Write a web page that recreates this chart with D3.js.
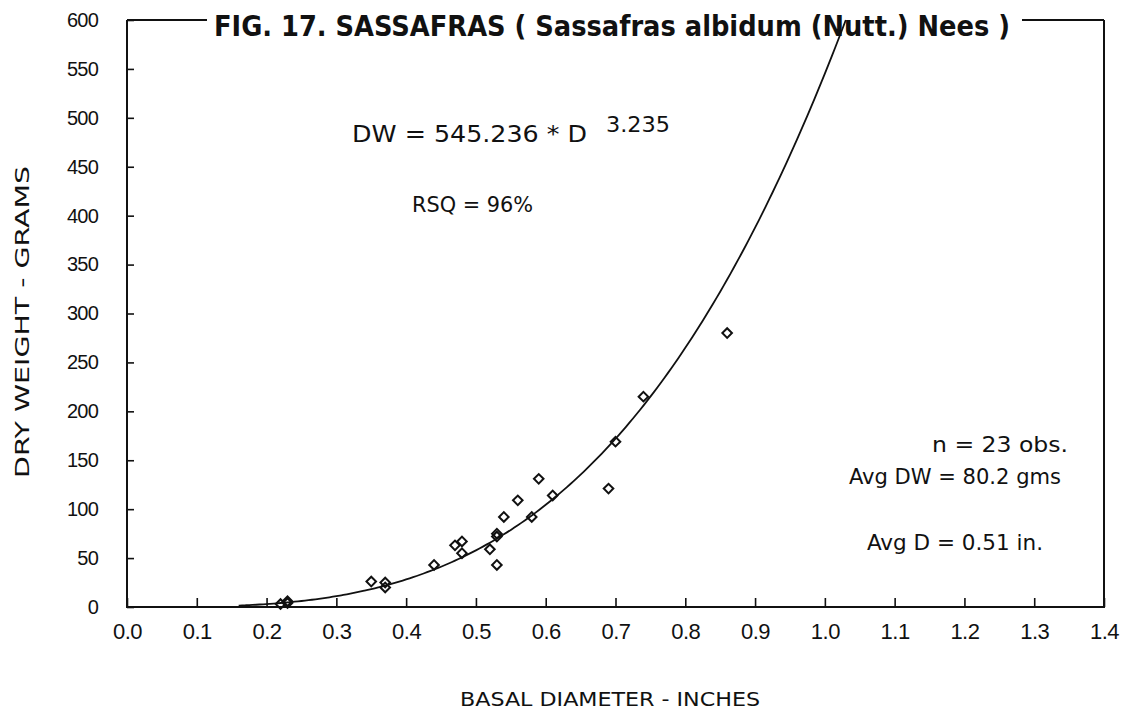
<!DOCTYPE html>
<html><head><meta charset="utf-8">
<script src="https://cdn.jsdelivr.net/npm/d3@7"></script>
<style>
body{margin:0;background:#fff;}
svg{display:block;}
text{fill:#111;}
</style></head>
<body>
<svg id="chart" width="1130" height="714"></svg>
<script>
// ---- data ----
const diameterIn = [0.22,0.23,0.23,0.35,0.37,0.37,0.44,0.47,0.48,0.48,0.52,0.53,0.53,0.53,0.54,0.56,0.58,0.59,0.61,0.69,0.70,0.74,0.86];
const dryWeightG = [3,6,4,26,25,20,43,63,67,55,59,75,72,43,92,109,92,131,114,121,169,215,280];
const xTickValues = [0,0.1,0.2,0.3,0.4,0.5,0.6,0.7,0.8,0.9,1.0,1.1,1.2,1.3,1.4];
const xTickLabels = ["0.0","0.1","0.2","0.3","0.4","0.5","0.6","0.7","0.8","0.9","1.0","1.1","1.2","1.3","1.4"];
const yTickValues = [0,50,100,150,200,250,300,350,400,450,500,550,600];
// fitted model printed on the chart: DW = a * D^b
const fitA = 545.236;
const fitB = 3.235;
const fitRange = [0.16, 1.03];
const titleText = "FIG. 17. SASSAFRAS  ( Sassafras albidum (Nutt.) Nees )";
const notes = ["n = 23 obs.", "Avg DW = 80.2 gms", "Avg D = 0.51 in."];

const svg = d3.select("#chart");
const L = 127, R = 1104, T = 20, B = 607;
const x = d3.scaleLinear().domain([0, 1.4]).range([L, R]);
const y = d3.scaleLinear().domain([0, 600]).range([B, T]);
const font = "'DejaVu Sans Condensed','Liberation Sans Narrow',Arial,sans-serif";
const tickFont = "'Liberation Sans',Arial,sans-serif";

// axes (inward ticks)
const xAxis = d3.axisBottom(x).tickValues(xTickValues).tickSizeInner(-9).tickSizeOuter(0)
  .tickFormat((d,i)=>xTickLabels[i]).tickPadding(17);
const gx = svg.append("g").attr("transform",`translate(0,${B})`).call(xAxis);
gx.select(".domain").remove();
gx.selectAll(".tick line").attr("stroke","#111").attr("stroke-width",1.6);
gx.selectAll(".tick text").attr("font-family",tickFont).attr("font-size",22)
  .attr("letter-spacing","-0.5").attr("fill","#111").attr("dy","0.68em");

const yAxis = d3.axisLeft(y).tickValues(yTickValues).tickSizeInner(-7).tickSizeOuter(0).tickPadding(29);
const gy = svg.append("g").attr("transform",`translate(${L},0)`).call(yAxis);
gy.select(".domain").remove();
gy.selectAll(".tick line").attr("stroke","#111").attr("stroke-width",1.6);
gy.selectAll(".tick text").attr("font-family",tickFont).attr("font-size",20)
  .attr("letter-spacing","-0.8").attr("fill","#111");

// frame
const frame = svg.append("g").attr("stroke","#111").attr("stroke-width",2).attr("fill","none");
frame.append("path").attr("d",`M${L},${T}V${B}H${R}V${T}`);
frame.append("line").attr("x1",L).attr("x2",207).attr("y1",T).attr("y2",T);
frame.append("line").attr("x1",1022).attr("x2",R).attr("y1",T).attr("y2",T);

// title
svg.append("text").attr("x",612).attr("y",36).attr("text-anchor","middle")
  .attr("font-family",font).attr("font-weight","bold").attr("font-size",28)
  .attr("textLength",796).attr("lengthAdjust","spacingAndGlyphs").text(titleText);

// fitted curve
const curvePts = d3.range(fitRange[0], fitRange[1] + 0.0001, 0.005).map(d => [d, fitA*Math.pow(d, fitB)]);
svg.append("path").datum(curvePts)
  .attr("fill","none").attr("stroke","#111").attr("stroke-width",1.8)
  .attr("d", d3.line().x(d=>x(d[0])).y(d=>y(Math.min(d[1],600))).curve(d3.curveMonotoneX));

// points (open diamonds = rotated squares)
const sym = d3.symbol().type(d3.symbolSquare).size(46);
svg.append("g").selectAll("path").data(diameterIn).join("path")
  .attr("transform",(d,i)=>`translate(${x(d)},${y(dryWeightG[i])}) rotate(45)`)
  .attr("d",sym).attr("fill","none").attr("stroke","#111").attr("stroke-width",2);

// equation
svg.append("text").attr("x",352).attr("y",142).attr("font-family",font).attr("font-size",23)
  .attr("textLength",235).attr("lengthAdjust","spacingAndGlyphs").text("DW = 545.236 * D");
svg.append("text").attr("x",606).attr("y",132).attr("font-family",font).attr("font-size",22)
  .attr("textLength",64).attr("lengthAdjust","spacingAndGlyphs").text("3.235");
svg.append("text").attr("x",412).attr("y",212).attr("font-family",font).attr("font-size",21)
  .attr("textLength",121).attr("lengthAdjust","spacingAndGlyphs").text("RSQ = 96%");

// notes
const noteX = [932, 849, 867], noteY = [452, 484, 550], noteW = [136, 212, 176];
notes.forEach((t,i)=>{
  svg.append("text").attr("x",noteX[i]).attr("y",noteY[i]).attr("font-family",font).attr("font-size",21)
    .attr("textLength",noteW[i]).attr("lengthAdjust","spacingAndGlyphs").text(t);
});

// axis titles
svg.append("text").attr("x",610).attr("y",706).attr("text-anchor","middle").attr("font-family",font)
  .attr("font-size",20).attr("textLength",300).attr("lengthAdjust","spacingAndGlyphs").text("BASAL DIAMETER - INCHES");
svg.append("text").attr("transform","translate(29,322) rotate(-90)").attr("text-anchor","middle")
  .attr("font-family",font).attr("font-size",20).attr("textLength",312).attr("lengthAdjust","spacingAndGlyphs")
  .text("DRY WEIGHT - GRAMS");
</script>
</body></html>
